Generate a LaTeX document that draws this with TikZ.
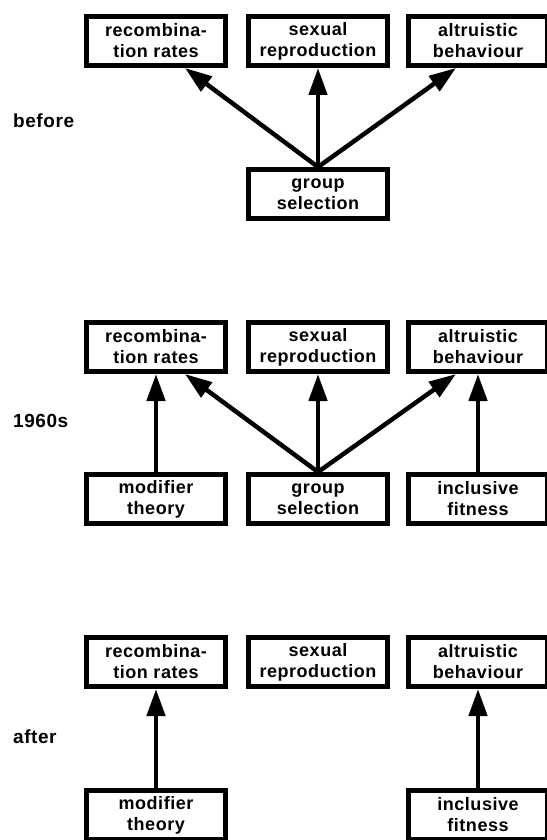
\documentclass[tikz,border=0pt]{standalone}
\usepackage{fontspec}
\setmainfont{Liberation Sans}[LetterSpace=3]
\usetikzlibrary{arrows.meta,calc}
\begin{document}
\begin{tikzpicture}[x=1pt,y=-1pt,
  box/.style={draw=black,line width=5pt,minimum width=139pt,minimum height=49pt,inner sep=0pt,
    align=center,font=\fontsize{18}{21}\selectfont\bfseries},
  lab/.style={anchor=west,inner sep=0pt,font=\fontsize{19}{21}\selectfont\bfseries},
  arr/.style={line width=4.5pt,-{Triangle[length=27pt,width=18pt]}}]
\useasboundingbox (0,0) rectangle (546,840);
% before
\node[lab] (l1) at (13,121) {before};
\node[box] (rr1) at (156,41) {recombina-\\tion rates};
\node[box] (sr1) at (318,41) {sexual\\reproduction};
\node[box] (ab1) at (478,41) {altruistic\\behaviour};
\node[box] (gs1) at (318,194) {group\\selection};
\draw[arr] (gs1.north) -- ($(rr1.south)+(29,0)$);
\draw[arr] (gs1.north) -- (sr1.south);
\draw[arr] (gs1.north) -- ($(ab1.south)+(-22,0)$);
% 1960s
\node[lab] (l2) at (13,421) {1960s};
\node[box] (rr2) at (156,347) {recombina-\\tion rates};
\node[box] (sr2) at (318,347) {sexual\\reproduction};
\node[box] (ab2) at (478,347) {altruistic\\behaviour};
\node[box] (mt2) at (156,499) {modifier\\theory};
\node[box] (gs2) at (318,499) {group\\selection};
\node[box] (if2) at (478,499) {inclusive\\fitness};
\draw[arr] (mt2.north) -- (rr2.south);
\draw[arr] (gs2.north) -- ($(rr2.south)+(29,0)$);
\draw[arr] (gs2.north) -- (sr2.south);
\draw[arr] (gs2.north) -- ($(ab2.south)+(-22,0)$);
\draw[arr] (if2.north) -- (ab2.south);
% after
\node[lab] (l3) at (13,737) {after};
\node[box] (rr3) at (156,662) {recombina-\\tion rates};
\node[box] (sr3) at (318,662) {sexual\\reproduction};
\node[box] (ab3) at (478,662) {altruistic\\behaviour};
\node[box] (mt3) at (156,815) {modifier\\theory};
\node[box] (if3) at (478,815) {inclusive\\fitness};
\draw[arr] (mt3.north) -- (rr3.south);
\draw[arr] (if3.north) -- (ab3.south);
\end{tikzpicture}
\end{document}
